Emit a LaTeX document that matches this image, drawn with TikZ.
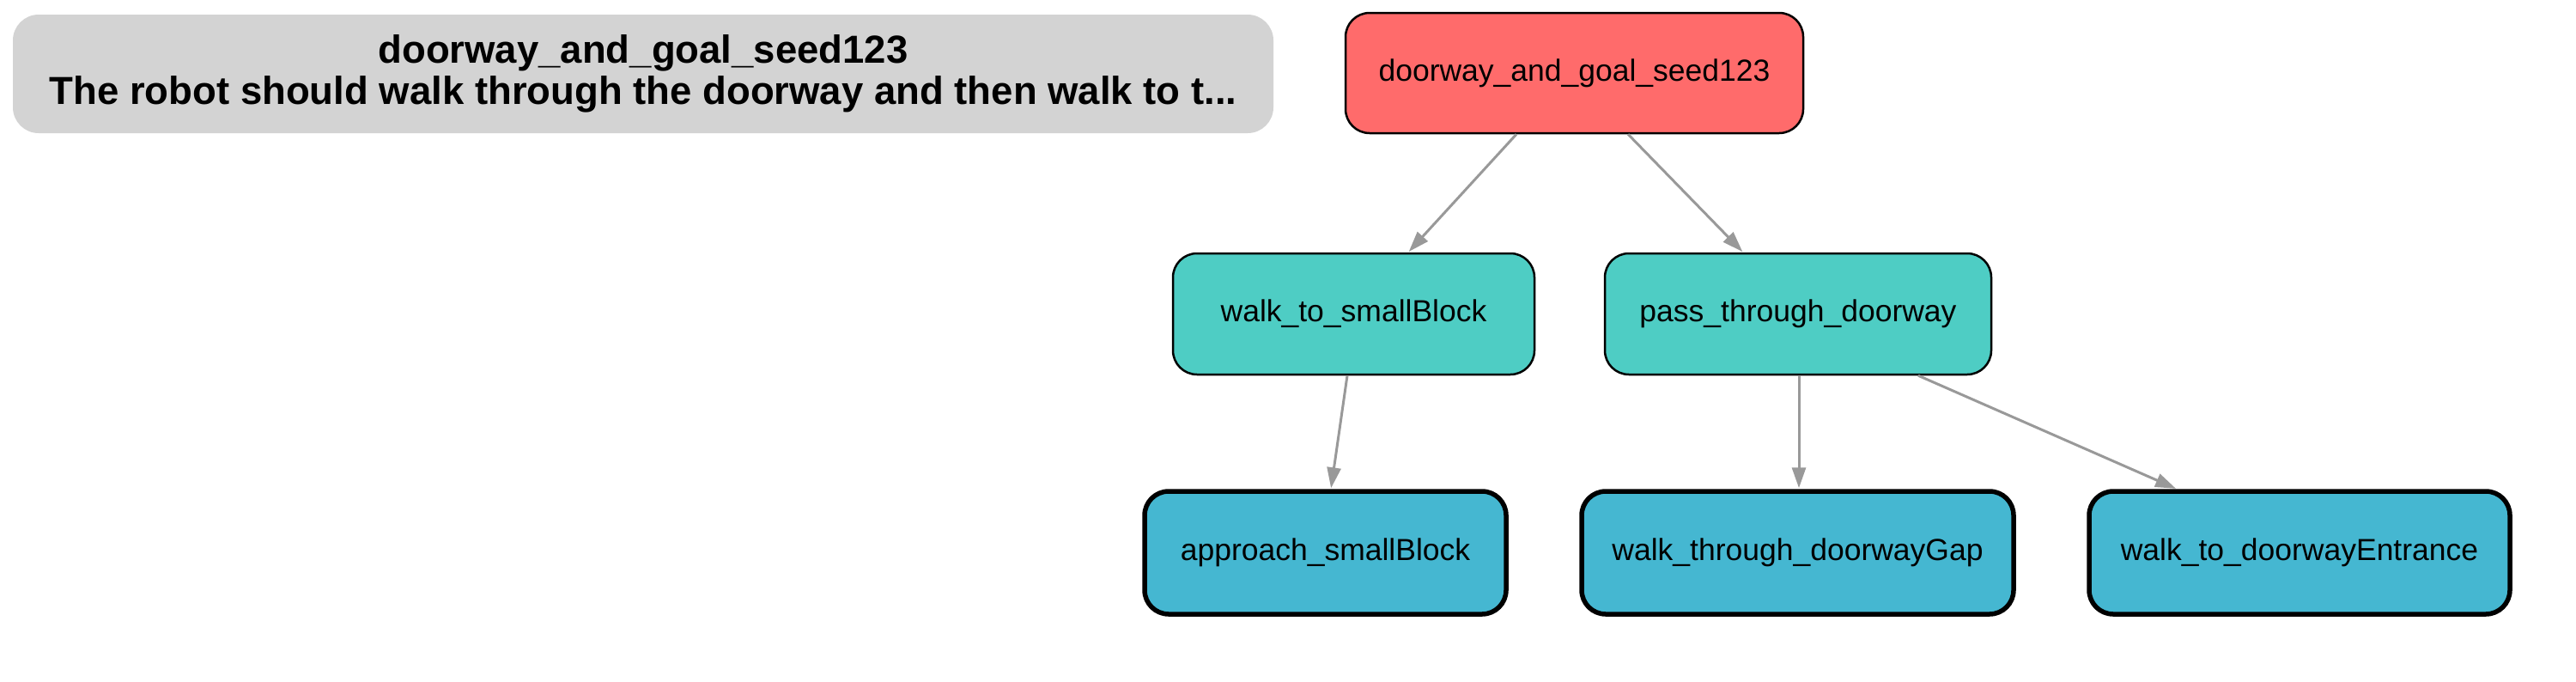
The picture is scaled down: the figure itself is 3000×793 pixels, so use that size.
\documentclass[tikz,border=0pt]{standalone}
\usepackage{fontspec}
\setmainfont{Liberation Sans}
\usetikzlibrary{arrows.meta,calc}
\definecolor{rootc}{HTML}{FF6B6B}
\definecolor{midc}{HTML}{4ECDC4}
\definecolor{leafc}{HTML}{45B7D1}
\definecolor{titlec}{HTML}{D3D3D3}
\definecolor{edgec}{HTML}{999999}
\tikzset{
  base/.style={draw=black, rounded corners=28pt, inner sep=0pt, align=center,
    font=\fontsize{35.5}{42}\selectfont},
  rootbox/.style={base, fill=rootc, line width=2.5pt},
  midbox/.style={base, fill=midc, line width=2.5pt},
  leafbox/.style={base, fill=leafc, line width=5.5pt},
  titlebox/.style={draw=none, fill=titlec, rounded corners=30pt, inner sep=0pt, align=center,
    font=\fontsize{45.5}{48}\selectfont\bfseries},
  edge/.style={draw=edgec, line width=3pt, -{Triangle[length=24pt,width=16pt]}, shorten >=1pt}
}
\begin{document}
\begin{tikzpicture}[x=1pt,y=-1pt]
\useasboundingbox (0,0) rectangle (3000,793);
\node[titlebox, minimum width=1468pt, minimum height=138pt] (title) at (749,86)
  {doorway\_and\_goal\_seed123\\The robot should walk through the doorway and then walk to t...};
\node[rootbox, minimum width=533pt, minimum height=140pt] (root) at (1833.5,85) {doorway\_and\_goal\_seed123};
\node[midbox, minimum width=421pt, minimum height=141pt] (wts) at (1576.5,365.5) {walk\_to\_smallBlock};
\node[midbox, minimum width=450pt, minimum height=141pt] (ptd) at (2094,365.5) {pass\_through\_doorway};
\node[leafbox, minimum width=421pt, minimum height=143pt] (app) at (1543.5,643.5) {approach\_smallBlock};
\node[leafbox, minimum width=503pt, minimum height=143pt] (wtg) at (2093.5,643.5) {walk\_through\_doorwayGap};
\node[leafbox, minimum width=490pt, minimum height=143pt] (wtd) at (2678,643.5) {walk\_to\_doorwayEntrance};
\draw[edge] ([xshift=-67.5pt]root.south) -- ([xshift=63.5pt]wts.north);
\draw[edge] ([xshift=62.5pt]root.south) -- ([xshift=-64pt]ptd.north);
\draw[edge] ([xshift=-7.5pt]wts.south) -- ([xshift=6.5pt]app.north);
\draw[edge] ([xshift=1pt]ptd.south) -- ([xshift=1.5pt]wtg.north);
\draw[edge] ([xshift=140pt]ptd.south) -- ([xshift=-143pt]wtd.north);
\end{tikzpicture}
\end{document}
